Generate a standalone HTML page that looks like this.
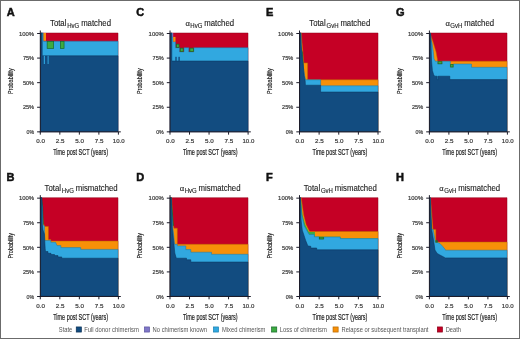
<!DOCTYPE html>
<html><head><meta charset="utf-8"><style>
html,body{margin:0;padding:0;background:#fff;}
body{width:520px;height:339px;overflow:hidden;}
svg{display:block;font-family:"Liberation Sans",sans-serif;will-change:transform;}
</style></head><body>
<svg width="520" height="339" viewBox="0 0 520 339">
<rect x="0" y="0" width="520" height="339" fill="#fff"/>
<polygon points="40.6,33 118,33 118,131.6 40.6,131.6" fill="#c50025" stroke="#8c0019" stroke-width="0.5" stroke-linejoin="miter"/>
<polygon points="40.6,33 43.5,33 43.5,41.2 118,41.2 118,131.6 40.6,131.6" fill="#31a8e0" stroke="#1a78a8" stroke-width="0.5" stroke-linejoin="miter"/>
<rect x="43.5" y="33" width="2.5" height="7.8" fill="#f79008"/>
<rect x="47.15" y="41.55" width="6.5" height="6.8" fill="#3dab40" stroke="#17692c" stroke-width="0.7"/>
<rect x="60.35" y="41.55" width="3.7" height="6.8" fill="#3dab40" stroke="#17692c" stroke-width="0.7"/>
<polygon points="40.6,33 42.2,33 42.2,55.8 118,55.8 118,131.6 40.6,131.6" fill="#124c80" stroke="#0a3058" stroke-width="0.5" stroke-linejoin="miter"/>
<rect x="43.8" y="55.8" width="1.1" height="8.2" fill="#31a8e0"/>
<rect x="47.6" y="55.8" width="1" height="8.2" fill="#31a8e0"/>
<g stroke="#1c1c2a" stroke-width="1" fill="none">
<line x1="40.3" y1="30.5" x2="40.3" y2="132.35"/>
<line x1="39.8" y1="131.85" x2="120.8" y2="131.85"/>
<line x1="37.1" y1="33.5" x2="40.3" y2="33.5"/>
<line x1="37.1" y1="58.09" x2="40.3" y2="58.09"/>
<line x1="37.1" y1="82.67" x2="40.3" y2="82.67"/>
<line x1="37.1" y1="107.26" x2="40.3" y2="107.26"/>
<line x1="37.1" y1="131.85" x2="40.3" y2="131.85"/>
<line x1="40.3" y1="131.85" x2="40.3" y2="134.65"/>
<line x1="59.83" y1="131.85" x2="59.83" y2="134.65"/>
<line x1="79.35" y1="131.85" x2="79.35" y2="134.65"/>
<line x1="98.88" y1="131.85" x2="98.88" y2="134.65"/>
<line x1="118.4" y1="131.85" x2="118.4" y2="134.65"/>
</g>
<text x="34.1" y="35.7" font-size="6.2" fill="#383838" textLength="15.2" lengthAdjust="spacingAndGlyphs" stroke="#383838" stroke-width="0.2" text-anchor="end">100%</text>
<text x="34.1" y="60.29" font-size="6.2" fill="#383838" textLength="11.2" lengthAdjust="spacingAndGlyphs" stroke="#383838" stroke-width="0.2" text-anchor="end">75%</text>
<text x="34.1" y="84.88" font-size="6.2" fill="#383838" textLength="11.2" lengthAdjust="spacingAndGlyphs" stroke="#383838" stroke-width="0.2" text-anchor="end">50%</text>
<text x="34.1" y="109.46" font-size="6.2" fill="#383838" textLength="11.2" lengthAdjust="spacingAndGlyphs" stroke="#383838" stroke-width="0.2" text-anchor="end">25%</text>
<text x="34.1" y="134.05" font-size="6.2" fill="#383838" textLength="7.6" lengthAdjust="spacingAndGlyphs" stroke="#383838" stroke-width="0.2" text-anchor="end">0%</text>
<text x="36.25" y="142.95" font-size="6.1" fill="#383838" textLength="8.7" lengthAdjust="spacingAndGlyphs" stroke="#383838" stroke-width="0.2">0.0</text>
<text x="55.77" y="142.95" font-size="6.1" fill="#383838" textLength="8.7" lengthAdjust="spacingAndGlyphs" stroke="#383838" stroke-width="0.2">2.5</text>
<text x="75.3" y="142.95" font-size="6.1" fill="#383838" textLength="8.7" lengthAdjust="spacingAndGlyphs" stroke="#383838" stroke-width="0.2">5.0</text>
<text x="94.83" y="142.95" font-size="6.1" fill="#383838" textLength="8.7" lengthAdjust="spacingAndGlyphs" stroke="#383838" stroke-width="0.2">7.5</text>
<text x="112.8" y="142.95" font-size="6.1" fill="#383838" textLength="11.8" lengthAdjust="spacingAndGlyphs" stroke="#383838" stroke-width="0.2">10.0</text>
<text x="53.2" y="154.95" font-size="8.6" fill="#222222" textLength="54.8" lengthAdjust="spacingAndGlyphs" stroke="#222222" stroke-width="0.2">Time post SCT (years)</text>
<text transform="translate(12.5,93.97) rotate(-90)" font-size="6.8" fill="#222222" stroke="#222222" stroke-width="0.15" textLength="25.6" lengthAdjust="spacingAndGlyphs">Probability</text>
<polygon points="170.3,33 248,33 248,131.6 170.3,131.6" fill="#c50025" stroke="#8c0019" stroke-width="0.5" stroke-linejoin="miter"/>
<polygon points="170.3,33 171.8,33 171.8,36.9 173.2,36.9 173.2,41.7 175.5,41.7 175.5,47.7 179.6,47.7 179.6,51.9 184,51.9 184,47.7 188.8,47.7 188.8,51.9 193.8,51.9 193.8,47.7 248,47.7 248,131.6 170.3,131.6" fill="#31a8e0" stroke="#1a78a8" stroke-width="0.5" stroke-linejoin="miter"/>
<rect x="171.8" y="33" width="1.4" height="3.9" fill="#8078c8"/>
<rect x="173.2" y="36.9" width="2.3" height="4.8" fill="#f79008"/>
<rect x="176.55" y="44.15" width="2.5" height="3.2" fill="#3dab40" stroke="#17692c" stroke-width="0.7"/>
<rect x="180.25" y="48.15" width="2.9" height="3.4" fill="#3dab40" stroke="#17692c" stroke-width="0.7"/>
<rect x="189.95" y="48.15" width="3.5" height="3.4" fill="#3dab40" stroke="#17692c" stroke-width="0.7"/>
<polygon points="170.3,33 171.8,33 171.8,61 248,61 248,131.6 170.3,131.6" fill="#124c80" stroke="#0a3058" stroke-width="0.5" stroke-linejoin="miter"/>
<rect x="175.3" y="56.8" width="1.4" height="4.2" fill="#124c80"/>
<rect x="178.4" y="56.8" width="1.4" height="4.2" fill="#124c80"/>
<g stroke="#1c1c2a" stroke-width="1" fill="none">
<line x1="170" y1="30.5" x2="170" y2="132.35"/>
<line x1="169.5" y1="131.85" x2="250.8" y2="131.85"/>
<line x1="166.8" y1="33.5" x2="170" y2="33.5"/>
<line x1="166.8" y1="58.09" x2="170" y2="58.09"/>
<line x1="166.8" y1="82.67" x2="170" y2="82.67"/>
<line x1="166.8" y1="107.26" x2="170" y2="107.26"/>
<line x1="166.8" y1="131.85" x2="170" y2="131.85"/>
<line x1="170" y1="131.85" x2="170" y2="134.65"/>
<line x1="189.53" y1="131.85" x2="189.53" y2="134.65"/>
<line x1="209.05" y1="131.85" x2="209.05" y2="134.65"/>
<line x1="228.57" y1="131.85" x2="228.57" y2="134.65"/>
<line x1="248.1" y1="131.85" x2="248.1" y2="134.65"/>
</g>
<text x="163.8" y="35.7" font-size="6.2" fill="#383838" textLength="15.2" lengthAdjust="spacingAndGlyphs" stroke="#383838" stroke-width="0.2" text-anchor="end">100%</text>
<text x="163.8" y="60.29" font-size="6.2" fill="#383838" textLength="11.2" lengthAdjust="spacingAndGlyphs" stroke="#383838" stroke-width="0.2" text-anchor="end">75%</text>
<text x="163.8" y="84.88" font-size="6.2" fill="#383838" textLength="11.2" lengthAdjust="spacingAndGlyphs" stroke="#383838" stroke-width="0.2" text-anchor="end">50%</text>
<text x="163.8" y="109.46" font-size="6.2" fill="#383838" textLength="11.2" lengthAdjust="spacingAndGlyphs" stroke="#383838" stroke-width="0.2" text-anchor="end">25%</text>
<text x="163.8" y="134.05" font-size="6.2" fill="#383838" textLength="7.6" lengthAdjust="spacingAndGlyphs" stroke="#383838" stroke-width="0.2" text-anchor="end">0%</text>
<text x="165.95" y="142.95" font-size="6.1" fill="#383838" textLength="8.7" lengthAdjust="spacingAndGlyphs" stroke="#383838" stroke-width="0.2">0.0</text>
<text x="185.48" y="142.95" font-size="6.1" fill="#383838" textLength="8.7" lengthAdjust="spacingAndGlyphs" stroke="#383838" stroke-width="0.2">2.5</text>
<text x="205" y="142.95" font-size="6.1" fill="#383838" textLength="8.7" lengthAdjust="spacingAndGlyphs" stroke="#383838" stroke-width="0.2">5.0</text>
<text x="224.53" y="142.95" font-size="6.1" fill="#383838" textLength="8.7" lengthAdjust="spacingAndGlyphs" stroke="#383838" stroke-width="0.2">7.5</text>
<text x="242.5" y="142.95" font-size="6.1" fill="#383838" textLength="11.8" lengthAdjust="spacingAndGlyphs" stroke="#383838" stroke-width="0.2">10.0</text>
<text x="182.9" y="154.95" font-size="8.6" fill="#222222" textLength="54.8" lengthAdjust="spacingAndGlyphs" stroke="#222222" stroke-width="0.2">Time post SCT (years)</text>
<text transform="translate(142.2,93.97) rotate(-90)" font-size="6.8" fill="#222222" stroke="#222222" stroke-width="0.15" textLength="25.6" lengthAdjust="spacingAndGlyphs">Probability</text>
<polygon points="299.8,33 378,33 378,131.6 299.8,131.6" fill="#c50025" stroke="#8c0019" stroke-width="0.5" stroke-linejoin="miter"/>
<polygon points="299.8,33 301.4,33 301.8,40 302.9,52 303.8,62.9 307.6,62.9 307.6,79.8 378,79.8 378,131.6 299.8,131.6" fill="#f79008" stroke="#b86800" stroke-width="0.5" stroke-linejoin="miter"/>
<polygon points="301.5,50 302.4,52 303.2,62.9 303.6,70 302.9,70 302.2,62 301.5,55" fill="#17692c" stroke="#0e4a1e" stroke-width="0.5" stroke-linejoin="miter"/>
<polygon points="299.8,33 300.9,33 301.3,45 302.2,58 303.4,67 304.6,75.7 305.6,79.8 320.6,79.8 320.6,85.8 378,85.8 378,131.6 299.8,131.6" fill="#31a8e0" stroke="#1a78a8" stroke-width="0.5" stroke-linejoin="miter"/>
<polygon points="299.8,33 300.8,33 301.2,45 302.2,58 303.3,66.8 304.2,75.7 305.2,81 305.4,85.2 320.6,85.2 320.6,92 378,92 378,131.6 299.8,131.6" fill="#124c80" stroke="#0a3058" stroke-width="0.5" stroke-linejoin="miter"/>
<g stroke="#1c1c2a" stroke-width="1" fill="none">
<line x1="299.5" y1="30.5" x2="299.5" y2="132.35"/>
<line x1="299" y1="131.85" x2="380.8" y2="131.85"/>
<line x1="296.3" y1="33.5" x2="299.5" y2="33.5"/>
<line x1="296.3" y1="58.09" x2="299.5" y2="58.09"/>
<line x1="296.3" y1="82.67" x2="299.5" y2="82.67"/>
<line x1="296.3" y1="107.26" x2="299.5" y2="107.26"/>
<line x1="296.3" y1="131.85" x2="299.5" y2="131.85"/>
<line x1="299.5" y1="131.85" x2="299.5" y2="134.65"/>
<line x1="319.12" y1="131.85" x2="319.12" y2="134.65"/>
<line x1="338.75" y1="131.85" x2="338.75" y2="134.65"/>
<line x1="358.38" y1="131.85" x2="358.38" y2="134.65"/>
<line x1="378" y1="131.85" x2="378" y2="134.65"/>
</g>
<text x="293.3" y="35.7" font-size="6.2" fill="#383838" textLength="15.2" lengthAdjust="spacingAndGlyphs" stroke="#383838" stroke-width="0.2" text-anchor="end">100%</text>
<text x="293.3" y="60.29" font-size="6.2" fill="#383838" textLength="11.2" lengthAdjust="spacingAndGlyphs" stroke="#383838" stroke-width="0.2" text-anchor="end">75%</text>
<text x="293.3" y="84.88" font-size="6.2" fill="#383838" textLength="11.2" lengthAdjust="spacingAndGlyphs" stroke="#383838" stroke-width="0.2" text-anchor="end">50%</text>
<text x="293.3" y="109.46" font-size="6.2" fill="#383838" textLength="11.2" lengthAdjust="spacingAndGlyphs" stroke="#383838" stroke-width="0.2" text-anchor="end">25%</text>
<text x="293.3" y="134.05" font-size="6.2" fill="#383838" textLength="7.6" lengthAdjust="spacingAndGlyphs" stroke="#383838" stroke-width="0.2" text-anchor="end">0%</text>
<text x="295.45" y="142.95" font-size="6.1" fill="#383838" textLength="8.7" lengthAdjust="spacingAndGlyphs" stroke="#383838" stroke-width="0.2">0.0</text>
<text x="315.07" y="142.95" font-size="6.1" fill="#383838" textLength="8.7" lengthAdjust="spacingAndGlyphs" stroke="#383838" stroke-width="0.2">2.5</text>
<text x="334.7" y="142.95" font-size="6.1" fill="#383838" textLength="8.7" lengthAdjust="spacingAndGlyphs" stroke="#383838" stroke-width="0.2">5.0</text>
<text x="354.32" y="142.95" font-size="6.1" fill="#383838" textLength="8.7" lengthAdjust="spacingAndGlyphs" stroke="#383838" stroke-width="0.2">7.5</text>
<text x="372.4" y="142.95" font-size="6.1" fill="#383838" textLength="11.8" lengthAdjust="spacingAndGlyphs" stroke="#383838" stroke-width="0.2">10.0</text>
<text x="312.6" y="154.95" font-size="8.6" fill="#222222" textLength="54.8" lengthAdjust="spacingAndGlyphs" stroke="#222222" stroke-width="0.2">Time post SCT (years)</text>
<text transform="translate(271.7,93.97) rotate(-90)" font-size="6.8" fill="#222222" stroke="#222222" stroke-width="0.15" textLength="25.6" lengthAdjust="spacingAndGlyphs">Probability</text>
<polygon points="429.7,33 507,33 507,131.6 429.7,131.6" fill="#c50025" stroke="#8c0019" stroke-width="0.5" stroke-linejoin="miter"/>
<polygon points="429.7,33 430.5,33 430.7,34.9 433.3,42.8 436,51.7 437.3,58.8 437.5,61.2 507,61.2 507,131.6 429.7,131.6" fill="#f79008" stroke="#b86800" stroke-width="0.5" stroke-linejoin="miter"/>
<polygon points="429.7,33 430.3,33 431.2,40.3 432,42.8 433.3,51.7 434,58.8 435.3,61.3 437.7,61.3 437.7,64 442.2,64 442.2,61.3 450.3,61.3 450.3,67.2 453.4,67.2 453.4,64 471.5,64 471.5,67.3 507,67.3 507,131.6 429.7,131.6" fill="#31a8e0" stroke="#1a78a8" stroke-width="0.5" stroke-linejoin="miter"/>
<rect x="438.05" y="61.65" width="3.8" height="2.1" fill="#3dab40" stroke="#17692c" stroke-width="0.7"/>
<rect x="450.65" y="64.35" width="2.4" height="2.6" fill="#3dab40" stroke="#17692c" stroke-width="0.7"/>
<polygon points="429.7,33 430.6,33.5 431,40 431.2,50 431.5,60 432.4,70.5 433.6,74.5 434.6,76.2 437.2,76.2 437.2,79.6 438.1,79.6 438.1,76.2 449.8,76.2 449.8,79.6 507,79.6 507,131.6 429.7,131.6" fill="#124c80" stroke="#0a3058" stroke-width="0.5" stroke-linejoin="miter"/>
<g stroke="#1c1c2a" stroke-width="1" fill="none">
<line x1="429.4" y1="30.5" x2="429.4" y2="132.35"/>
<line x1="428.9" y1="131.85" x2="509.8" y2="131.85"/>
<line x1="426.2" y1="33.5" x2="429.4" y2="33.5"/>
<line x1="426.2" y1="58.09" x2="429.4" y2="58.09"/>
<line x1="426.2" y1="82.67" x2="429.4" y2="82.67"/>
<line x1="426.2" y1="107.26" x2="429.4" y2="107.26"/>
<line x1="426.2" y1="131.85" x2="429.4" y2="131.85"/>
<line x1="429.4" y1="131.85" x2="429.4" y2="134.65"/>
<line x1="448.9" y1="131.85" x2="448.9" y2="134.65"/>
<line x1="468.4" y1="131.85" x2="468.4" y2="134.65"/>
<line x1="487.9" y1="131.85" x2="487.9" y2="134.65"/>
<line x1="507.4" y1="131.85" x2="507.4" y2="134.65"/>
</g>
<text x="423.2" y="35.7" font-size="6.2" fill="#383838" textLength="15.2" lengthAdjust="spacingAndGlyphs" stroke="#383838" stroke-width="0.2" text-anchor="end">100%</text>
<text x="423.2" y="60.29" font-size="6.2" fill="#383838" textLength="11.2" lengthAdjust="spacingAndGlyphs" stroke="#383838" stroke-width="0.2" text-anchor="end">75%</text>
<text x="423.2" y="84.88" font-size="6.2" fill="#383838" textLength="11.2" lengthAdjust="spacingAndGlyphs" stroke="#383838" stroke-width="0.2" text-anchor="end">50%</text>
<text x="423.2" y="109.46" font-size="6.2" fill="#383838" textLength="11.2" lengthAdjust="spacingAndGlyphs" stroke="#383838" stroke-width="0.2" text-anchor="end">25%</text>
<text x="423.2" y="134.05" font-size="6.2" fill="#383838" textLength="7.6" lengthAdjust="spacingAndGlyphs" stroke="#383838" stroke-width="0.2" text-anchor="end">0%</text>
<text x="425.35" y="142.95" font-size="6.1" fill="#383838" textLength="8.7" lengthAdjust="spacingAndGlyphs" stroke="#383838" stroke-width="0.2">0.0</text>
<text x="444.85" y="142.95" font-size="6.1" fill="#383838" textLength="8.7" lengthAdjust="spacingAndGlyphs" stroke="#383838" stroke-width="0.2">2.5</text>
<text x="464.35" y="142.95" font-size="6.1" fill="#383838" textLength="8.7" lengthAdjust="spacingAndGlyphs" stroke="#383838" stroke-width="0.2">5.0</text>
<text x="483.85" y="142.95" font-size="6.1" fill="#383838" textLength="8.7" lengthAdjust="spacingAndGlyphs" stroke="#383838" stroke-width="0.2">7.5</text>
<text x="501.8" y="142.95" font-size="6.1" fill="#383838" textLength="11.8" lengthAdjust="spacingAndGlyphs" stroke="#383838" stroke-width="0.2">10.0</text>
<text x="442.25" y="154.95" font-size="8.6" fill="#222222" textLength="54.8" lengthAdjust="spacingAndGlyphs" stroke="#222222" stroke-width="0.2">Time post SCT (years)</text>
<text transform="translate(401.6,93.97) rotate(-90)" font-size="6.8" fill="#222222" stroke="#222222" stroke-width="0.15" textLength="25.6" lengthAdjust="spacingAndGlyphs">Probability</text>
<polygon points="40.6,197.7 118,197.7 118,296.2 40.6,296.2" fill="#c50025" stroke="#8c0019" stroke-width="0.5" stroke-linejoin="miter"/>
<polygon points="40.6,197.7 41.6,197.7 43.4,223 44.6,226.5 48.4,226.5 48.4,239.6 50.8,239.6 50.8,241.1 118,241.1 118,296.2 40.6,296.2" fill="#f79008" stroke="#b86800" stroke-width="0.5" stroke-linejoin="miter"/>
<polygon points="41.4,197.7 42.7,206.8 43.3,224.4 42.3,224.4 41.2,206.8" fill="#17692c" stroke="#0e4a1e" stroke-width="0.5" stroke-linejoin="miter"/>
<polygon points="40.6,197.7 41.3,197.7 42.3,206.8 42.8,224.4 44.4,226.2 44.8,240.5 50.8,240.5 50.8,242.3 55.6,242.3 57,245.6 60.9,245.6 60.9,247.6 80.7,247.6 80.7,249.4 118,249.4 118,296.2 40.6,296.2" fill="#31a8e0" stroke="#1a78a8" stroke-width="0.5" stroke-linejoin="miter"/>
<polygon points="40.6,197.7 42,197.7 42.1,223 43,230 44.4,234 45.2,248.7 45.5,251.5 48,251.5 48,253.3 51,253.3 51,254.5 54.5,254.5 54.5,255.6 58,255.6 58,256.9 61.7,256.9 61.7,258.2 118,258.2 118,296.2 40.6,296.2" fill="#124c80" stroke="#0a3058" stroke-width="0.5" stroke-linejoin="miter"/>
<g stroke="#1c1c2a" stroke-width="1" fill="none">
<line x1="40.3" y1="195.15" x2="40.3" y2="297"/>
<line x1="39.8" y1="296.5" x2="120.8" y2="296.5"/>
<line x1="37.1" y1="198.15" x2="40.3" y2="198.15"/>
<line x1="37.1" y1="222.74" x2="40.3" y2="222.74"/>
<line x1="37.1" y1="247.32" x2="40.3" y2="247.32"/>
<line x1="37.1" y1="271.91" x2="40.3" y2="271.91"/>
<line x1="37.1" y1="296.5" x2="40.3" y2="296.5"/>
<line x1="40.3" y1="296.5" x2="40.3" y2="299.3"/>
<line x1="59.83" y1="296.5" x2="59.83" y2="299.3"/>
<line x1="79.35" y1="296.5" x2="79.35" y2="299.3"/>
<line x1="98.88" y1="296.5" x2="98.88" y2="299.3"/>
<line x1="118.4" y1="296.5" x2="118.4" y2="299.3"/>
</g>
<text x="34.1" y="200.35" font-size="6.2" fill="#383838" textLength="15.2" lengthAdjust="spacingAndGlyphs" stroke="#383838" stroke-width="0.2" text-anchor="end">100%</text>
<text x="34.1" y="224.94" font-size="6.2" fill="#383838" textLength="11.2" lengthAdjust="spacingAndGlyphs" stroke="#383838" stroke-width="0.2" text-anchor="end">75%</text>
<text x="34.1" y="249.52" font-size="6.2" fill="#383838" textLength="11.2" lengthAdjust="spacingAndGlyphs" stroke="#383838" stroke-width="0.2" text-anchor="end">50%</text>
<text x="34.1" y="274.11" font-size="6.2" fill="#383838" textLength="11.2" lengthAdjust="spacingAndGlyphs" stroke="#383838" stroke-width="0.2" text-anchor="end">25%</text>
<text x="34.1" y="298.7" font-size="6.2" fill="#383838" textLength="7.6" lengthAdjust="spacingAndGlyphs" stroke="#383838" stroke-width="0.2" text-anchor="end">0%</text>
<text x="36.25" y="307.6" font-size="6.1" fill="#383838" textLength="8.7" lengthAdjust="spacingAndGlyphs" stroke="#383838" stroke-width="0.2">0.0</text>
<text x="55.77" y="307.6" font-size="6.1" fill="#383838" textLength="8.7" lengthAdjust="spacingAndGlyphs" stroke="#383838" stroke-width="0.2">2.5</text>
<text x="75.3" y="307.6" font-size="6.1" fill="#383838" textLength="8.7" lengthAdjust="spacingAndGlyphs" stroke="#383838" stroke-width="0.2">5.0</text>
<text x="94.83" y="307.6" font-size="6.1" fill="#383838" textLength="8.7" lengthAdjust="spacingAndGlyphs" stroke="#383838" stroke-width="0.2">7.5</text>
<text x="112.8" y="307.6" font-size="6.1" fill="#383838" textLength="11.8" lengthAdjust="spacingAndGlyphs" stroke="#383838" stroke-width="0.2">10.0</text>
<text x="53.2" y="319.6" font-size="8.6" fill="#222222" textLength="54.8" lengthAdjust="spacingAndGlyphs" stroke="#222222" stroke-width="0.2">Time post SCT (years)</text>
<text transform="translate(12.5,258.62) rotate(-90)" font-size="6.8" fill="#222222" stroke="#222222" stroke-width="0.15" textLength="25.6" lengthAdjust="spacingAndGlyphs">Probability</text>
<polygon points="170.3,197.7 248,197.7 248,296.2 170.3,296.2" fill="#c50025" stroke="#8c0019" stroke-width="0.5" stroke-linejoin="miter"/>
<polygon points="170.3,197.7 171.6,197.7 173.3,225 174,228.2 177.3,228.2 177.3,244.3 248,244.3 248,296.2 170.3,296.2" fill="#f79008" stroke="#b86800" stroke-width="0.5" stroke-linejoin="miter"/>
<polygon points="171.2,197.7 172.4,212 173.4,225.6 172.5,225.6 171.5,212 170.8,197.7" fill="#17692c" stroke="#0e4a1e" stroke-width="0.5" stroke-linejoin="miter"/>
<polygon points="170.3,197.7 171.1,197.7 172.6,225.4 174.2,240 174.6,244.3 177.3,244.3 177.3,245.9 185.8,245.9 185.8,249.6 190.8,249.6 190.8,252.2 211.5,252.2 211.5,254.3 248,254.3 248,296.2 170.3,296.2" fill="#31a8e0" stroke="#1a78a8" stroke-width="0.5" stroke-linejoin="miter"/>
<polygon points="170.3,197.7 171.3,197.7 172,225 172.4,229 173.6,240.6 174.8,253 176,257.3 176.5,258.2 186.5,258.2 186.5,259.8 190.8,259.8 190.8,262 248,262 248,296.2 170.3,296.2" fill="#124c80" stroke="#0a3058" stroke-width="0.5" stroke-linejoin="miter"/>
<g stroke="#1c1c2a" stroke-width="1" fill="none">
<line x1="170" y1="195.15" x2="170" y2="297"/>
<line x1="169.5" y1="296.5" x2="250.8" y2="296.5"/>
<line x1="166.8" y1="198.15" x2="170" y2="198.15"/>
<line x1="166.8" y1="222.74" x2="170" y2="222.74"/>
<line x1="166.8" y1="247.32" x2="170" y2="247.32"/>
<line x1="166.8" y1="271.91" x2="170" y2="271.91"/>
<line x1="166.8" y1="296.5" x2="170" y2="296.5"/>
<line x1="170" y1="296.5" x2="170" y2="299.3"/>
<line x1="189.53" y1="296.5" x2="189.53" y2="299.3"/>
<line x1="209.05" y1="296.5" x2="209.05" y2="299.3"/>
<line x1="228.57" y1="296.5" x2="228.57" y2="299.3"/>
<line x1="248.1" y1="296.5" x2="248.1" y2="299.3"/>
</g>
<text x="163.8" y="200.35" font-size="6.2" fill="#383838" textLength="15.2" lengthAdjust="spacingAndGlyphs" stroke="#383838" stroke-width="0.2" text-anchor="end">100%</text>
<text x="163.8" y="224.94" font-size="6.2" fill="#383838" textLength="11.2" lengthAdjust="spacingAndGlyphs" stroke="#383838" stroke-width="0.2" text-anchor="end">75%</text>
<text x="163.8" y="249.52" font-size="6.2" fill="#383838" textLength="11.2" lengthAdjust="spacingAndGlyphs" stroke="#383838" stroke-width="0.2" text-anchor="end">50%</text>
<text x="163.8" y="274.11" font-size="6.2" fill="#383838" textLength="11.2" lengthAdjust="spacingAndGlyphs" stroke="#383838" stroke-width="0.2" text-anchor="end">25%</text>
<text x="163.8" y="298.7" font-size="6.2" fill="#383838" textLength="7.6" lengthAdjust="spacingAndGlyphs" stroke="#383838" stroke-width="0.2" text-anchor="end">0%</text>
<text x="165.95" y="307.6" font-size="6.1" fill="#383838" textLength="8.7" lengthAdjust="spacingAndGlyphs" stroke="#383838" stroke-width="0.2">0.0</text>
<text x="185.48" y="307.6" font-size="6.1" fill="#383838" textLength="8.7" lengthAdjust="spacingAndGlyphs" stroke="#383838" stroke-width="0.2">2.5</text>
<text x="205" y="307.6" font-size="6.1" fill="#383838" textLength="8.7" lengthAdjust="spacingAndGlyphs" stroke="#383838" stroke-width="0.2">5.0</text>
<text x="224.53" y="307.6" font-size="6.1" fill="#383838" textLength="8.7" lengthAdjust="spacingAndGlyphs" stroke="#383838" stroke-width="0.2">7.5</text>
<text x="242.5" y="307.6" font-size="6.1" fill="#383838" textLength="11.8" lengthAdjust="spacingAndGlyphs" stroke="#383838" stroke-width="0.2">10.0</text>
<text x="182.9" y="319.6" font-size="8.6" fill="#222222" textLength="54.8" lengthAdjust="spacingAndGlyphs" stroke="#222222" stroke-width="0.2">Time post SCT (years)</text>
<text transform="translate(142.2,258.62) rotate(-90)" font-size="6.8" fill="#222222" stroke="#222222" stroke-width="0.15" textLength="25.6" lengthAdjust="spacingAndGlyphs">Probability</text>
<polygon points="299.8,197.7 378,197.7 378,296.2 299.8,296.2" fill="#c50025" stroke="#8c0019" stroke-width="0.5" stroke-linejoin="miter"/>
<polygon points="299.8,197.7 301.2,197.7 303.7,215 306.1,224.4 309.6,231.5 378,231.5 378,296.2 299.8,296.2" fill="#f79008" stroke="#b86800" stroke-width="0.5" stroke-linejoin="miter"/>
<polygon points="299.8,197.7 300.7,197.7 302.6,215 305.2,224.4 309,232 314.9,232.1 314.9,236.8 340.3,236.8 340.3,238.6 378,238.6 378,296.2 299.8,296.2" fill="#3dab40"/>
<polygon points="299.8,197.7 300.4,197.7 301.8,215 304.3,226 309.2,234.5 314.3,234.5 314.3,236.8 319,236.8 319,239.2 323.8,239.2 323.8,237 340.3,237 340.3,238.6 378,238.6 378,296.2 299.8,296.2" fill="#31a8e0" stroke="#1a78a8" stroke-width="0.5" stroke-linejoin="miter"/>
<rect x="319.35" y="237.15" width="4.1" height="1.7" fill="#3dab40" stroke="#17692c" stroke-width="0.7"/>
<polygon points="299.8,197.7 300.5,197.7 301.1,220 302.3,230.2 305.7,240.5 307.9,246 310.8,246.3 310.8,248 316.7,248 316.7,249.8 378,249.8 378,296.2 299.8,296.2" fill="#124c80" stroke="#0a3058" stroke-width="0.5" stroke-linejoin="miter"/>
<g stroke="#1c1c2a" stroke-width="1" fill="none">
<line x1="299.5" y1="195.15" x2="299.5" y2="297"/>
<line x1="299" y1="296.5" x2="380.8" y2="296.5"/>
<line x1="296.3" y1="198.15" x2="299.5" y2="198.15"/>
<line x1="296.3" y1="222.74" x2="299.5" y2="222.74"/>
<line x1="296.3" y1="247.32" x2="299.5" y2="247.32"/>
<line x1="296.3" y1="271.91" x2="299.5" y2="271.91"/>
<line x1="296.3" y1="296.5" x2="299.5" y2="296.5"/>
<line x1="299.5" y1="296.5" x2="299.5" y2="299.3"/>
<line x1="319.12" y1="296.5" x2="319.12" y2="299.3"/>
<line x1="338.75" y1="296.5" x2="338.75" y2="299.3"/>
<line x1="358.38" y1="296.5" x2="358.38" y2="299.3"/>
<line x1="378" y1="296.5" x2="378" y2="299.3"/>
</g>
<text x="293.3" y="200.35" font-size="6.2" fill="#383838" textLength="15.2" lengthAdjust="spacingAndGlyphs" stroke="#383838" stroke-width="0.2" text-anchor="end">100%</text>
<text x="293.3" y="224.94" font-size="6.2" fill="#383838" textLength="11.2" lengthAdjust="spacingAndGlyphs" stroke="#383838" stroke-width="0.2" text-anchor="end">75%</text>
<text x="293.3" y="249.52" font-size="6.2" fill="#383838" textLength="11.2" lengthAdjust="spacingAndGlyphs" stroke="#383838" stroke-width="0.2" text-anchor="end">50%</text>
<text x="293.3" y="274.11" font-size="6.2" fill="#383838" textLength="11.2" lengthAdjust="spacingAndGlyphs" stroke="#383838" stroke-width="0.2" text-anchor="end">25%</text>
<text x="293.3" y="298.7" font-size="6.2" fill="#383838" textLength="7.6" lengthAdjust="spacingAndGlyphs" stroke="#383838" stroke-width="0.2" text-anchor="end">0%</text>
<text x="295.45" y="307.6" font-size="6.1" fill="#383838" textLength="8.7" lengthAdjust="spacingAndGlyphs" stroke="#383838" stroke-width="0.2">0.0</text>
<text x="315.07" y="307.6" font-size="6.1" fill="#383838" textLength="8.7" lengthAdjust="spacingAndGlyphs" stroke="#383838" stroke-width="0.2">2.5</text>
<text x="334.7" y="307.6" font-size="6.1" fill="#383838" textLength="8.7" lengthAdjust="spacingAndGlyphs" stroke="#383838" stroke-width="0.2">5.0</text>
<text x="354.32" y="307.6" font-size="6.1" fill="#383838" textLength="8.7" lengthAdjust="spacingAndGlyphs" stroke="#383838" stroke-width="0.2">7.5</text>
<text x="372.4" y="307.6" font-size="6.1" fill="#383838" textLength="11.8" lengthAdjust="spacingAndGlyphs" stroke="#383838" stroke-width="0.2">10.0</text>
<text x="312.6" y="319.6" font-size="8.6" fill="#222222" textLength="54.8" lengthAdjust="spacingAndGlyphs" stroke="#222222" stroke-width="0.2">Time post SCT (years)</text>
<text transform="translate(271.7,258.62) rotate(-90)" font-size="6.8" fill="#222222" stroke="#222222" stroke-width="0.15" textLength="25.6" lengthAdjust="spacingAndGlyphs">Probability</text>
<polygon points="429.7,197.7 507,197.7 507,296.2 429.7,296.2" fill="#c50025" stroke="#8c0019" stroke-width="0.5" stroke-linejoin="miter"/>
<polygon points="429.7,197.7 430.5,197.7 433,229.4 435.8,229.4 435.8,242.1 507,242.1 507,296.2 429.7,296.2" fill="#f79008" stroke="#b86800" stroke-width="0.5" stroke-linejoin="miter"/>
<polygon points="429.7,197.7 430.3,197.7 431.7,229.4 433.2,229.4 435,240.3 435.5,242.5 437.7,242.5 440,243.6 442.5,246.2 445.2,249.4 445.4,250.2 507,250.2 507,296.2 429.7,296.2" fill="#31a8e0" stroke="#1a78a8" stroke-width="0.5" stroke-linejoin="miter"/>
<rect x="435.85" y="240.65" width="1.5" height="1.5" fill="#3dab40" stroke="#17692c" stroke-width="0.7"/>
<polygon points="429.7,197.7 430.2,197.7 431.7,229.4 433.4,239.2 435,250.1 437.2,253.4 439.9,255 443.2,256.7 445.4,257.9 507,257.9 507,296.2 429.7,296.2" fill="#124c80" stroke="#0a3058" stroke-width="0.5" stroke-linejoin="miter"/>
<g stroke="#1c1c2a" stroke-width="1" fill="none">
<line x1="429.4" y1="195.15" x2="429.4" y2="297"/>
<line x1="428.9" y1="296.5" x2="509.8" y2="296.5"/>
<line x1="426.2" y1="198.15" x2="429.4" y2="198.15"/>
<line x1="426.2" y1="222.74" x2="429.4" y2="222.74"/>
<line x1="426.2" y1="247.32" x2="429.4" y2="247.32"/>
<line x1="426.2" y1="271.91" x2="429.4" y2="271.91"/>
<line x1="426.2" y1="296.5" x2="429.4" y2="296.5"/>
<line x1="429.4" y1="296.5" x2="429.4" y2="299.3"/>
<line x1="448.9" y1="296.5" x2="448.9" y2="299.3"/>
<line x1="468.4" y1="296.5" x2="468.4" y2="299.3"/>
<line x1="487.9" y1="296.5" x2="487.9" y2="299.3"/>
<line x1="507.4" y1="296.5" x2="507.4" y2="299.3"/>
</g>
<text x="423.2" y="200.35" font-size="6.2" fill="#383838" textLength="15.2" lengthAdjust="spacingAndGlyphs" stroke="#383838" stroke-width="0.2" text-anchor="end">100%</text>
<text x="423.2" y="224.94" font-size="6.2" fill="#383838" textLength="11.2" lengthAdjust="spacingAndGlyphs" stroke="#383838" stroke-width="0.2" text-anchor="end">75%</text>
<text x="423.2" y="249.52" font-size="6.2" fill="#383838" textLength="11.2" lengthAdjust="spacingAndGlyphs" stroke="#383838" stroke-width="0.2" text-anchor="end">50%</text>
<text x="423.2" y="274.11" font-size="6.2" fill="#383838" textLength="11.2" lengthAdjust="spacingAndGlyphs" stroke="#383838" stroke-width="0.2" text-anchor="end">25%</text>
<text x="423.2" y="298.7" font-size="6.2" fill="#383838" textLength="7.6" lengthAdjust="spacingAndGlyphs" stroke="#383838" stroke-width="0.2" text-anchor="end">0%</text>
<text x="425.35" y="307.6" font-size="6.1" fill="#383838" textLength="8.7" lengthAdjust="spacingAndGlyphs" stroke="#383838" stroke-width="0.2">0.0</text>
<text x="444.85" y="307.6" font-size="6.1" fill="#383838" textLength="8.7" lengthAdjust="spacingAndGlyphs" stroke="#383838" stroke-width="0.2">2.5</text>
<text x="464.35" y="307.6" font-size="6.1" fill="#383838" textLength="8.7" lengthAdjust="spacingAndGlyphs" stroke="#383838" stroke-width="0.2">5.0</text>
<text x="483.85" y="307.6" font-size="6.1" fill="#383838" textLength="8.7" lengthAdjust="spacingAndGlyphs" stroke="#383838" stroke-width="0.2">7.5</text>
<text x="501.8" y="307.6" font-size="6.1" fill="#383838" textLength="11.8" lengthAdjust="spacingAndGlyphs" stroke="#383838" stroke-width="0.2">10.0</text>
<text x="442.25" y="319.6" font-size="8.6" fill="#222222" textLength="54.8" lengthAdjust="spacingAndGlyphs" stroke="#222222" stroke-width="0.2">Time post SCT (years)</text>
<text transform="translate(401.6,258.62) rotate(-90)" font-size="6.8" fill="#222222" stroke="#222222" stroke-width="0.15" textLength="25.6" lengthAdjust="spacingAndGlyphs">Probability</text>
<text x="49.99" y="25.9" font-size="8.2" fill="#222222" textLength="16.45" lengthAdjust="spacingAndGlyphs" stroke="#222222" stroke-width="0.12">Total</text>
<text x="67.24" y="28.4" font-size="6.6" fill="#222222" textLength="12" lengthAdjust="spacingAndGlyphs" stroke="#222222" stroke-width="0.12">HvG</text>
<text x="81.14" y="25.9" font-size="8.2" fill="#222222" textLength="29.87" lengthAdjust="spacingAndGlyphs" stroke="#222222" stroke-width="0.12">matched</text>
<text x="44.58" y="190.55" font-size="8.2" fill="#222222" textLength="16.45" lengthAdjust="spacingAndGlyphs" stroke="#222222" stroke-width="0.12">Total</text>
<text x="61.83" y="193.05" font-size="6.6" fill="#222222" textLength="12" lengthAdjust="spacingAndGlyphs" stroke="#222222" stroke-width="0.12">HvG</text>
<text x="75.73" y="190.55" font-size="8.2" fill="#222222" textLength="41.99" lengthAdjust="spacingAndGlyphs" stroke="#222222" stroke-width="0.12">mismatched</text>
<text x="185.46" y="25.9" font-size="7.2" fill="#222222" textLength="4.4" lengthAdjust="spacingAndGlyphs" stroke="#222222" stroke-width="0.12">α</text>
<text x="190.36" y="28.4" font-size="6.6" fill="#222222" textLength="12" lengthAdjust="spacingAndGlyphs" stroke="#222222" stroke-width="0.12">HvG</text>
<text x="204.26" y="25.9" font-size="8.2" fill="#222222" textLength="29.87" lengthAdjust="spacingAndGlyphs" stroke="#222222" stroke-width="0.12">matched</text>
<text x="179.76" y="190.55" font-size="7.2" fill="#222222" textLength="4.4" lengthAdjust="spacingAndGlyphs" stroke="#222222" stroke-width="0.12">α</text>
<text x="184.66" y="193.05" font-size="6.6" fill="#222222" textLength="12" lengthAdjust="spacingAndGlyphs" stroke="#222222" stroke-width="0.12">HvG</text>
<text x="198.56" y="190.55" font-size="8.2" fill="#222222" textLength="41.99" lengthAdjust="spacingAndGlyphs" stroke="#222222" stroke-width="0.12">mismatched</text>
<text x="309.24" y="25.9" font-size="8.2" fill="#222222" textLength="16.45" lengthAdjust="spacingAndGlyphs" stroke="#222222" stroke-width="0.12">Total</text>
<text x="326.49" y="28.4" font-size="6.6" fill="#222222" textLength="12" lengthAdjust="spacingAndGlyphs" stroke="#222222" stroke-width="0.12">GvH</text>
<text x="340.39" y="25.9" font-size="8.2" fill="#222222" textLength="29.87" lengthAdjust="spacingAndGlyphs" stroke="#222222" stroke-width="0.12">matched</text>
<text x="303.68" y="190.55" font-size="8.2" fill="#222222" textLength="16.45" lengthAdjust="spacingAndGlyphs" stroke="#222222" stroke-width="0.12">Total</text>
<text x="320.93" y="193.05" font-size="6.6" fill="#222222" textLength="12" lengthAdjust="spacingAndGlyphs" stroke="#222222" stroke-width="0.12">GvH</text>
<text x="334.83" y="190.55" font-size="8.2" fill="#222222" textLength="41.99" lengthAdjust="spacingAndGlyphs" stroke="#222222" stroke-width="0.12">mismatched</text>
<text x="445.46" y="25.9" font-size="7.2" fill="#222222" textLength="4.4" lengthAdjust="spacingAndGlyphs" stroke="#222222" stroke-width="0.12">α</text>
<text x="450.36" y="28.4" font-size="6.6" fill="#222222" textLength="12" lengthAdjust="spacingAndGlyphs" stroke="#222222" stroke-width="0.12">GvH</text>
<text x="464.26" y="25.9" font-size="8.2" fill="#222222" textLength="29.87" lengthAdjust="spacingAndGlyphs" stroke="#222222" stroke-width="0.12">matched</text>
<text x="439.36" y="190.55" font-size="7.2" fill="#222222" textLength="4.4" lengthAdjust="spacingAndGlyphs" stroke="#222222" stroke-width="0.12">α</text>
<text x="444.26" y="193.05" font-size="6.6" fill="#222222" textLength="12" lengthAdjust="spacingAndGlyphs" stroke="#222222" stroke-width="0.12">GvH</text>
<text x="458.16" y="190.55" font-size="8.2" fill="#222222" textLength="41.99" lengthAdjust="spacingAndGlyphs" stroke="#222222" stroke-width="0.12">mismatched</text>
<text x="6.8" y="15.9" font-size="11" font-weight="bold" fill="#111" stroke="#111" stroke-width="0.5">A</text>
<text x="136.2" y="15.8" font-size="11" font-weight="bold" fill="#111" stroke="#111" stroke-width="0.5">C</text>
<text x="266.1" y="15.8" font-size="11" font-weight="bold" fill="#111" stroke="#111" stroke-width="0.5">E</text>
<text x="395.9" y="15.8" font-size="11" font-weight="bold" fill="#111" stroke="#111" stroke-width="0.5">G</text>
<text x="6.5" y="180.5" font-size="11" font-weight="bold" fill="#111" stroke="#111" stroke-width="0.5">B</text>
<text x="136.2" y="180.5" font-size="11" font-weight="bold" fill="#111" stroke="#111" stroke-width="0.5">D</text>
<text x="266.1" y="180.5" font-size="11" font-weight="bold" fill="#111" stroke="#111" stroke-width="0.5">F</text>
<text x="395.9" y="180.5" font-size="11" font-weight="bold" fill="#111" stroke="#111" stroke-width="0.5">H</text>
<text x="58.8" y="332" font-size="6.3" fill="#555555" textLength="13.5" lengthAdjust="spacingAndGlyphs">State</text>
<rect x="76.25" y="326.95" width="5.1" height="5.1" fill="#124c80" stroke="#0b2f55" stroke-width="0.7"/>
<text x="84.2" y="332" font-size="6.3" fill="#555555" textLength="54.6" lengthAdjust="spacingAndGlyphs">Full donor chimerism</text>
<rect x="144.45" y="326.95" width="5.1" height="5.1" fill="#8078c8" stroke="#5a53a0" stroke-width="0.7"/>
<text x="152.6" y="332" font-size="6.3" fill="#555555" textLength="54.3" lengthAdjust="spacingAndGlyphs">No chimerism known</text>
<rect x="213.45" y="326.95" width="5.1" height="5.1" fill="#31a8e0" stroke="#1a7fb0" stroke-width="0.7"/>
<text x="222" y="332" font-size="6.3" fill="#555555" textLength="43.4" lengthAdjust="spacingAndGlyphs">Mixed chimerism</text>
<rect x="271.65" y="326.95" width="5.1" height="5.1" fill="#3dab40" stroke="#17692c" stroke-width="0.7"/>
<text x="279.7" y="332" font-size="6.3" fill="#555555" textLength="47.2" lengthAdjust="spacingAndGlyphs">Loss of chimerism</text>
<rect x="333.05" y="326.95" width="5.1" height="5.1" fill="#f79008" stroke="#b86a00" stroke-width="0.7"/>
<text x="341.6" y="332" font-size="6.3" fill="#555555" textLength="86.9" lengthAdjust="spacingAndGlyphs">Relapse or subsequent transplant</text>
<rect x="437.35" y="326.95" width="5.1" height="5.1" fill="#c50025" stroke="#8a0018" stroke-width="0.7"/>
<text x="445.7" y="332" font-size="6.3" fill="#555555" textLength="15.3" lengthAdjust="spacingAndGlyphs">Death</text>
<rect x="0.5" y="0.5" width="519" height="338" fill="none" stroke="#6b6b6b" stroke-width="1"/>
</svg>
</body></html>
